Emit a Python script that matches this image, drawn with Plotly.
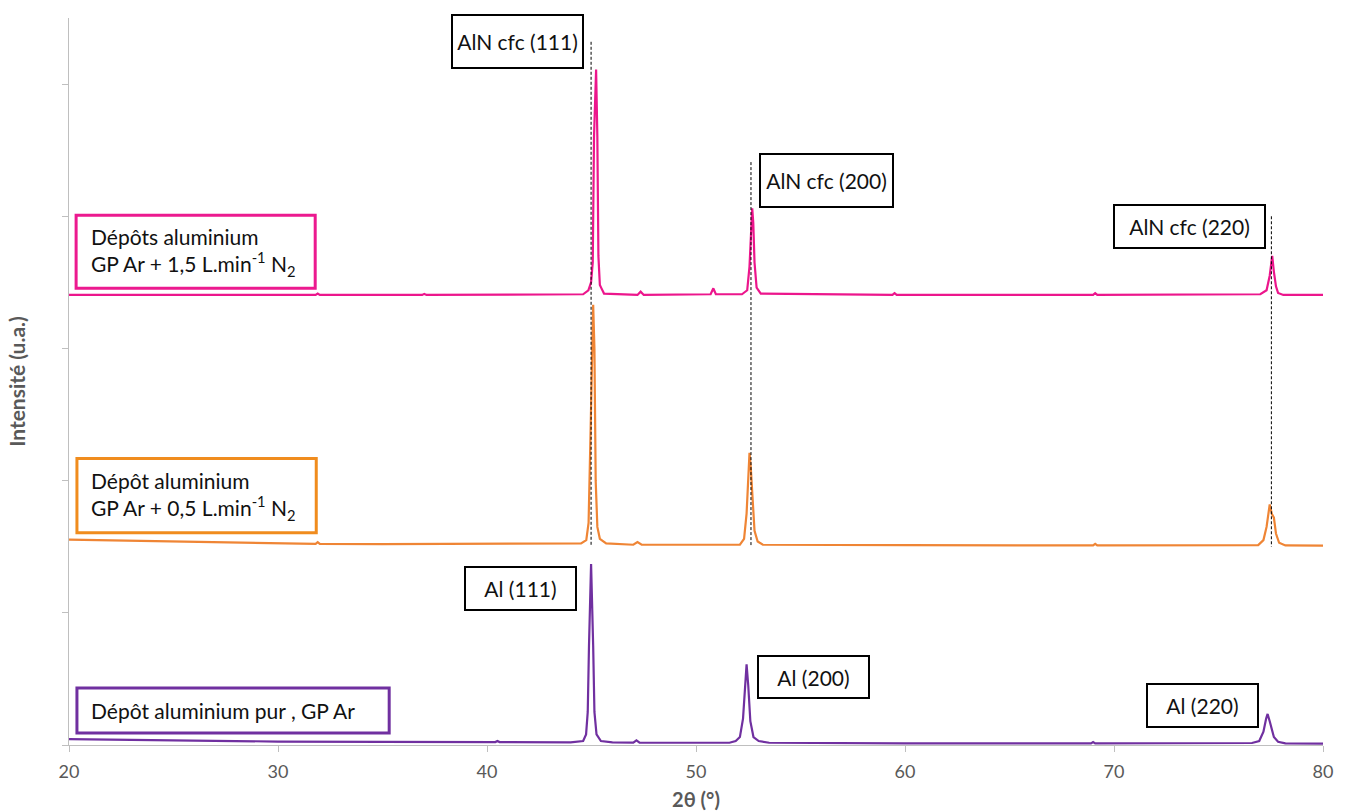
import plotly.graph_objects as go

# ---------------- data ----------------
# Dépôt aluminium pur, GP Ar (purple)
pur_x = [20, 25, 30, 35, 40, 40.4, 40.5, 40.6, 44.0, 44.6, 44.74, 44.82, 44.88, 44.98, 45.08, 45.14,
         45.24, 45.45, 46.0, 47.0, 47.15, 47.3, 49.8, 51.6, 51.9, 52.1, 52.25, 52.35, 52.42, 52.5,
         52.6, 52.75, 53.0, 53.5, 60.0, 68.9, 69.0, 69.1, 76.0, 76.6, 76.95, 77.15, 77.28, 77.35,
         77.45, 77.55, 77.65, 77.85, 78.2, 80.0]
pur_y = [0.045, 0.035, 0.026, 0.024, 0.022, 0.022, 0.03, 0.022, 0.02, 0.03, 0.08, 0.25, 0.75, 1.37, 0.75, 0.25,
         0.08, 0.03, 0.02, 0.018, 0.035, 0.018, 0.017, 0.017, 0.03, 0.06, 0.2, 0.45, 0.61, 0.45,
         0.18, 0.06, 0.03, 0.017, 0.012, 0.012, 0.022, 0.012, 0.011, 0.015, 0.03, 0.1, 0.2, 0.235,
         0.18, 0.11, 0.06, 0.025, 0.012, 0.01]

# Dépôt aluminium GP Ar + 0,5 L/min N2 (orange)
n05_x = [20, 25, 30, 31.8, 31.9, 32.0, 35, 40, 44.5, 44.75, 44.86, 44.96, 45.0, 45.08, 45.14, 45.2,
         45.28, 45.4, 45.7, 47.0, 47.2, 47.4, 52.1, 52.3, 52.42, 52.5, 52.56, 52.62, 52.7, 52.8,
         52.95, 53.2, 60.0, 69.0, 69.1, 69.2, 76.9, 77.15, 77.3, 77.45, 77.55, 77.65, 77.75, 77.9,
         78.2, 80.0]
n05_y = [1.553, 1.54, 1.527, 1.522, 1.535, 1.522, 1.52, 1.52, 1.525, 1.55, 1.68, 2.4, 2.8, 3.33, 3.0, 2.0,
         1.65, 1.56, 1.525, 1.515, 1.535, 1.515, 1.515, 1.56, 1.75, 2.1, 2.21, 2.1, 1.85, 1.62,
         1.54, 1.515, 1.512, 1.51, 1.522, 1.51, 1.512, 1.55, 1.65, 1.82, 1.75, 1.72, 1.6, 1.53,
         1.51, 1.508]

# Dépôts aluminium GP Ar + 1,5 L/min N2 (magenta)
n15_x = [20, 31.8, 31.9, 32.0, 36.9, 37.0, 37.1, 44.6, 44.85, 44.98, 45.06, 45.12, 45.22, 45.28,
         45.33, 45.4, 45.46, 45.6, 47.2, 47.35, 47.5, 50.7, 50.83, 50.95, 52.2, 52.45, 52.56, 52.64,
         52.69, 52.74, 52.8, 52.9, 53.1, 59.4, 59.5, 59.6, 69.0, 69.1, 69.2, 77.0, 77.3, 77.45,
         77.57, 77.65, 77.75, 77.85, 78.1, 80.0]
n15_y = [3.405, 3.405, 3.415, 3.405, 3.405, 3.413, 3.405, 3.41, 3.44, 3.5, 3.65, 4.6, 5.11, 4.6,
         3.7, 3.48, 3.46, 3.415, 3.405, 3.43, 3.405, 3.41, 3.455, 3.41, 3.41, 3.44, 3.62, 3.95,
         4.06, 3.95, 3.65, 3.46, 3.415, 3.405, 3.418, 3.405, 3.405, 3.418, 3.405, 3.41, 3.44, 3.55,
         3.70, 3.58, 3.47, 3.42, 3.405, 3.405]

# dashed reference lines (AlN cfc peak positions)
ref_x = [44.98, 52.63, 77.53]
ref_top = [5.32, 4.41, 4.0]
ref_bottom = [1.50, 1.50, 1.50]

x_ticks = [20, 30, 40, 50, 60, 70, 80]

# ---------------- figure ----------------
FONT = "Lato"
C_PUR = "#7030A0"
C_ORA = "#EF8535"
C_MAG = "#EC168C"
TXT = "#111111"

fig = go.Figure()
fig.add_trace(go.Scatter(x=pur_x, y=pur_y, mode="lines", line=dict(color=C_PUR, width=2.2), hoverinfo="skip"))
fig.add_trace(go.Scatter(x=n05_x, y=n05_y, mode="lines", line=dict(color=C_ORA, width=2.2), hoverinfo="skip"))
fig.add_trace(go.Scatter(x=n15_x, y=n15_y, mode="lines", line=dict(color=C_MAG, width=2.2), hoverinfo="skip"))

dx, dy = [], []
for xv, t, b in zip(ref_x, ref_top, ref_bottom):
    dx += [xv, xv, None]
    dy += [t, b, None]
fig.add_trace(go.Scatter(x=dx, y=dy, mode="lines",
                         line=dict(color="black", width=1, dash="3px,2px"), hoverinfo="skip"))


def box(text, x, y, w, h, bw=2, fs=21):
    fig.add_annotation(
        x=x, y=y, xref="x", yref="y", text=text, showarrow=False,
        xanchor="center", yanchor="middle",
        width=w - 2 * bw, height=h - 2 * bw,
        align="center", valign="middle",
        bordercolor="black", borderwidth=bw, borderpad=0, bgcolor="white",
        font=dict(family=FONT, size=fs, color=TXT))


box("AlN cfc (111)", 41.48, 5.32, 133, 55)
box("AlN cfc (200)", 56.23, 4.27, 135, 55)
box("AlN cfc (220)", 73.61, 3.92, 153, 45)
box("Al (111)", 41.62, 1.186, 113, 45)
box("Al (200)", 55.60, 0.515, 113, 44)
box("Al (220)", 74.23, 0.30, 113, 45)


def legend_box(text, x0, x1, y0, y1, tx, ty, color):
    fig.add_shape(type="rect", xref="x", yref="y", x0=x0, x1=x1, y0=y0, y1=y1,
                  line=dict(color=color, width=3), fillcolor="white", layer="above")
    fig.add_annotation(x=tx, y=ty, xref="x", yref="y", text=text, showarrow=False,
                       xanchor="left", yanchor="middle", align="left",
                       font=dict(family=FONT, size=21, color=TXT))


legend_box("Dépôts aluminium<br>GP Ar + 1,5 L.min<sup>-1</sup> N<sub>2</sub>",
           20.34, 31.78, 3.455, 4.008, 20.97, 3.73, "#EC198F")
legend_box("Dépôt aluminium<br>GP Ar + 0,5 L.min<sup>-1</sup> N<sub>2</sub>",
           20.38, 31.83, 1.606, 2.167, 20.97, 1.886, "#F08C1E")
legend_box("Dépôt aluminium pur , GP Ar",
           20.38, 35.32, 0.091, 0.432, 20.97, 0.261, "#7030A0")

fig.update_layout(
    width=1347, height=811,
    margin=dict(l=69, r=24, t=18, b=66),
    paper_bgcolor="white", plot_bgcolor="white",
    showlegend=False,
    font=dict(family=FONT, color="#595959"),
)
fig.update_xaxes(
    range=[20, 80], tickvals=x_ticks, ticktext=[str(v) for v in x_ticks],
    showgrid=False, zeroline=False, automargin=False,
    showline=True, linecolor="#bfbfbf", linewidth=1,
    ticks="outside", ticklen=6, tickcolor="#bfbfbf",
    tickfont=dict(family=FONT, size=18, color="#595959"),
    ticklabelstandoff=4,
    title=dict(text="<b>2θ (°)</b>", font=dict(family=FONT, size=20, color="#595959"), standoff=16),
)
fig.update_yaxes(
    range=[0, 5.5], tickvals=[0, 1, 2, 3, 4, 5], showticklabels=False,
    showgrid=False, zeroline=False, automargin=False,
    showline=True, linecolor="#bfbfbf", linewidth=1,
    ticks="outside", ticklen=6, tickcolor="#bfbfbf",
    title=dict(text="<b>Intensité (u.a.)</b>", font=dict(family=FONT, size=21, color="#595959"), standoff=30),
)

fig.write_html("out.html", config={"displayModeBar": False},
               post_script="document.body.style.margin='0px';")
